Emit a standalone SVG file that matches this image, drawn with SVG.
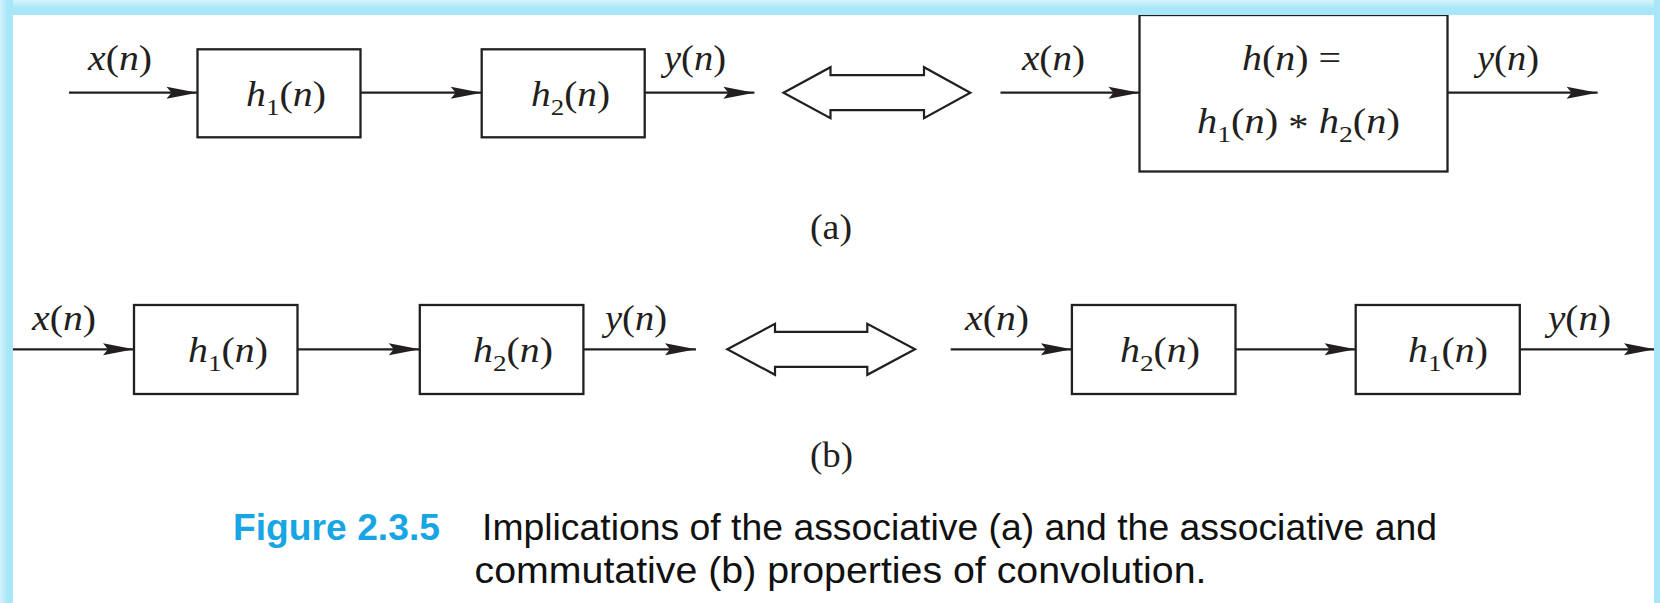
<svg xmlns="http://www.w3.org/2000/svg" width="1660" height="603" viewBox="0 0 1660 603">
  <defs>
    <marker id="ah" viewBox="-33 -7 34 14" refX="0" refY="0" markerWidth="34" markerHeight="14" markerUnits="userSpaceOnUse" orient="auto">
      <path d="M0,0 L-31,-6 L-26,0 L-31,6 Z" fill="#231f20"/>
    </marker>
    <linearGradient id="gTop" x1="0" y1="0" x2="0" y2="1">
      <stop offset="0" stop-color="#d6f4fc"/>
      <stop offset="0.55" stop-color="#a8e7f8"/>
      <stop offset="1" stop-color="#a6e6f8"/>
    </linearGradient>
    <linearGradient id="gLeft" x1="0" y1="0" x2="1" y2="0">
      <stop offset="0" stop-color="#d2f3fc"/>
      <stop offset="0.6" stop-color="#a8e7f8"/>
      <stop offset="1" stop-color="#a6e6f8"/>
    </linearGradient>
    <style>
      .box { fill: #ffffff; stroke: #231f20; stroke-width: 2.3; }
      .wire { fill: none; stroke: #231f20; stroke-width: 2.2; marker-end: url(#ah); }
      .dbl { fill: #ffffff; stroke: #231f20; stroke-width: 2.2; stroke-linejoin: miter; }
      .m { font-family: "Liberation Serif", "Times New Roman", serif; font-size: 35px; fill: #231f20; white-space: pre; }
      .i { font-style: italic; }
      .s { font-size: 24px; font-style: normal; }
      .cap { font-family: "Liberation Sans", Arial, sans-serif; font-size: 36px; fill: #111111; white-space: pre; }
      .fig { font-weight: bold; fill: #17a6e3; }
    </style>
  </defs>

  <rect x="0" y="0" width="1660" height="603" fill="#ffffff"/>

  <!-- connectors -->
  <g id="connectors">
    <!-- (a) left -->
    <line class="wire" x1="69" y1="92.7" x2="197.5" y2="92.7"/>
    <line class="wire" x1="360.5" y1="92.7" x2="481.7" y2="92.7"/>
    <line class="wire" x1="644.8" y1="92.7" x2="754.4" y2="92.7"/>
    <!-- (a) right -->
    <line class="wire" x1="1000.5" y1="92.7" x2="1139.5" y2="92.7"/>
    <line class="wire" x1="1447.5" y1="92.7" x2="1597.6" y2="92.7"/>
    <!-- (b) left -->
    <line class="wire" x1="0" y1="349.3" x2="134" y2="349.3"/>
    <line class="wire" x1="297.5" y1="349.3" x2="419.8" y2="349.3"/>
    <line class="wire" x1="583.4" y1="349.3" x2="696" y2="349.3"/>
    <!-- (b) right -->
    <line class="wire" x1="950.7" y1="349.3" x2="1071.9" y2="349.3"/>
    <line class="wire" x1="1235.5" y1="349.3" x2="1355.7" y2="349.3"/>
    <line class="wire" x1="1519.8" y1="349.3" x2="1655" y2="349.3"/>
    <!-- equivalence double arrows -->
    <path id="equiv-a" class="dbl" d="M783.5,92.7 L830.5,67.2 L830.5,75.2 L924,75.2 L924,67.2 L970.3,92.7 L924,118.2 L924,110.2 L830.5,110.2 L830.5,118.2 Z"/>
    <path id="equiv-b" class="dbl" d="M727.3,349.3 L775,323.8 L775,331.8 L867.3,331.8 L867.3,323.8 L915,349.3 L867.3,374.8 L867.3,366.8 L775,366.8 L775,374.8 Z"/>
  </g>

  <!-- signal labels -->
  <g id="labels">
    <text class="m" x="88" y="70" textLength="64" lengthAdjust="spacingAndGlyphs"><tspan class="i">x</tspan>(<tspan class="i">n</tspan>)</text>
    <text class="m" x="664" y="70" textLength="62" lengthAdjust="spacingAndGlyphs"><tspan class="i">y</tspan>(<tspan class="i">n</tspan>)</text>
    <text class="m" x="1022" y="70" textLength="63" lengthAdjust="spacingAndGlyphs"><tspan class="i">x</tspan>(<tspan class="i">n</tspan>)</text>
    <text class="m" x="1477" y="70" textLength="62" lengthAdjust="spacingAndGlyphs"><tspan class="i">y</tspan>(<tspan class="i">n</tspan>)</text>
    <text class="m" x="32" y="330" textLength="64" lengthAdjust="spacingAndGlyphs"><tspan class="i">x</tspan>(<tspan class="i">n</tspan>)</text>
    <text class="m" x="605" y="330" textLength="62" lengthAdjust="spacingAndGlyphs"><tspan class="i">y</tspan>(<tspan class="i">n</tspan>)</text>
    <text class="m" x="965" y="330" textLength="64" lengthAdjust="spacingAndGlyphs"><tspan class="i">x</tspan>(<tspan class="i">n</tspan>)</text>
    <text class="m" x="1548" y="330" textLength="63" lengthAdjust="spacingAndGlyphs"><tspan class="i">y</tspan>(<tspan class="i">n</tspan>)</text>
    <text id="label-a" class="m" x="810" y="239" textLength="42" lengthAdjust="spacingAndGlyphs">(a)</text>
    <text id="label-b" class="m" x="810" y="467" textLength="43" lengthAdjust="spacingAndGlyphs">(b)</text>
  </g>

  <!-- (a) nodes -->
  <g id="a-h1">
    <rect class="box" x="197.5" y="49.3" width="163" height="88"/>
    <text class="m" x="246" y="106" textLength="80" lengthAdjust="spacingAndGlyphs"><tspan class="i">h</tspan><tspan class="s" dy="9">1</tspan><tspan dy="-9">(</tspan><tspan class="i">n</tspan>)</text>
  </g>
  <g id="a-h2">
    <rect class="box" x="481.7" y="49.3" width="163" height="88"/>
    <text class="m" x="531" y="106" textLength="79" lengthAdjust="spacingAndGlyphs"><tspan class="i">h</tspan><tspan class="s" dy="9">2</tspan><tspan dy="-9">(</tspan><tspan class="i">n</tspan>)</text>
  </g>
  <g id="a-h">
    <rect class="box" x="1139.5" y="15" width="308" height="156.5"/>
    <text class="m" x="1242" y="70" textLength="99" lengthAdjust="spacingAndGlyphs"><tspan class="i">h</tspan>(<tspan class="i">n</tspan>) =</text>
    <text class="m" x="1197" y="133" textLength="203" lengthAdjust="spacingAndGlyphs"><tspan class="i">h</tspan><tspan class="s" dy="9">1</tspan><tspan dy="-9">(</tspan><tspan class="i">n</tspan>) <tspan dy="6">*</tspan><tspan dy="-6"> </tspan><tspan class="i">h</tspan><tspan class="s" dy="9">2</tspan><tspan dy="-9">(</tspan><tspan class="i">n</tspan>)</text>
  </g>

  <!-- (b) nodes -->
  <g id="b-h1-left">
    <rect class="box" x="134" y="305" width="163.5" height="89"/>
    <text class="m" x="188" y="362" textLength="80" lengthAdjust="spacingAndGlyphs"><tspan class="i">h</tspan><tspan class="s" dy="9">1</tspan><tspan dy="-9">(</tspan><tspan class="i">n</tspan>)</text>
  </g>
  <g id="b-h2-left">
    <rect class="box" x="419.8" y="305" width="163.6" height="89"/>
    <text class="m" x="473" y="362" textLength="80" lengthAdjust="spacingAndGlyphs"><tspan class="i">h</tspan><tspan class="s" dy="9">2</tspan><tspan dy="-9">(</tspan><tspan class="i">n</tspan>)</text>
  </g>
  <g id="b-h2-right">
    <rect class="box" x="1071.9" y="305" width="163.6" height="89"/>
    <text class="m" x="1120" y="362" textLength="80" lengthAdjust="spacingAndGlyphs"><tspan class="i">h</tspan><tspan class="s" dy="9">2</tspan><tspan dy="-9">(</tspan><tspan class="i">n</tspan>)</text>
  </g>
  <g id="b-h1-right">
    <rect class="box" x="1355.7" y="305" width="164.1" height="89"/>
    <text class="m" x="1408" y="362" textLength="80" lengthAdjust="spacingAndGlyphs"><tspan class="i">h</tspan><tspan class="s" dy="9">1</tspan><tspan dy="-9">(</tspan><tspan class="i">n</tspan>)</text>
  </g>

  <!-- caption -->
  <g id="caption">
    <text class="cap fig" x="233" y="540" textLength="207" lengthAdjust="spacingAndGlyphs">Figure 2.3.5</text>
    <text class="cap" x="482" y="540" textLength="955" lengthAdjust="spacingAndGlyphs">Implications of the associative (a) and the associative and</text>
    <text class="cap" x="474.5" y="583" textLength="732" lengthAdjust="spacingAndGlyphs">commutative (b) properties of convolution.</text>
  </g>

  <!-- frame -->
  <g id="frame">
    <rect x="0" y="0" width="1660" height="15" fill="url(#gTop)"/>
    <rect x="0" y="0" width="13" height="603" fill="url(#gLeft)"/>
    <rect x="1654" y="0" width="6" height="603" fill="#a6e6f8"/>
  </g>
</svg>
